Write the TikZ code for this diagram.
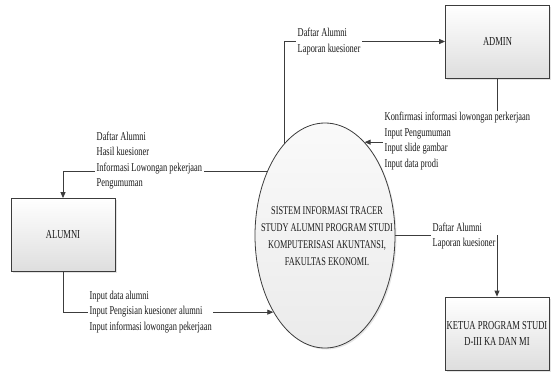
\documentclass[tikz,border=0pt]{standalone}
\usepackage{fontspec}
\setmainfont{Liberation Serif}[FakeStretch=0.7]
\usetikzlibrary{shapes.geometric,arrows.meta,shadows}
\definecolor{linegray}{RGB}{60,60,60}
\definecolor{inkgray}{RGB}{25,25,25}
\begin{document}
\begin{tikzpicture}[x=1pt,y=-1pt,
  entity/.style={draw=linegray, line width=0.8pt, top color=white, bottom color=black!13,
    minimum width=104pt, minimum height=73pt, inner sep=0pt, align=center,
    font=\fontsize{12.2}{16}\selectfont, text=inkgray,
    drop shadow={shadow xshift=1.8pt, shadow yshift=-1.8pt, fill=black!22}},
  procshape/.style={ellipse, draw=linegray, line width=0.8pt, top color=black!2, bottom color=black!8,
    minimum width=140pt, minimum height=225pt, inner sep=0pt,
    drop shadow={shadow xshift=1.5pt, shadow yshift=-1.5pt, fill=black!20}},
  proctext/.style={align=center, font=\fontsize{11.8}{17}\selectfont, text=inkgray, inner sep=0pt},
  dataflow/.style={draw=linegray, line width=0.8pt, -{Triangle[length=6pt,width=5pt]}},
  flowlabel/.style={fill=white, inner sep=1.5pt, anchor=west, align=left,
    font=\fontsize{12}{15.5}\selectfont, text=inkgray},
]
\useasboundingbox (0,0) rectangle (551,372);

% external entities and the process
\node[entity] (admin)  at (497.5,41.5) {ADMIN};
\node[entity] (alumni) at (63,235) {ALUMNI};
\node[entity] (ketua)  at (497,333.5) {KETUA PROGRAM STUDI\\D-III KA DAN MI};
\node[procshape] (el) at (325,235.5) {};
\node[proctext] (eltext) at (327,236) {SISTEM INFORMASI TRACER\\STUDY ALUMNI PROGRAM STUDI\\KOMPUTERISASI AKUNTANSI,\\FAKULTAS EKONOMI.};

% data flows
\draw[dataflow] (el.114) |- (admin.west);
\draw[dataflow] (admin.south) |- (el.67);
\draw[dataflow] (el.132) -| (alumni.north);
\draw[dataflow] (alumni.south) |- (el.236);
\draw[dataflow] (el.east) -| (ketua.north);

% flow labels
\node[flowlabel] (lbA) at (296,41.5) {Daftar Alumni\\Laporan kuesioner};
\node[flowlabel] (lbB) at (383,141) {Konfirmasi informasi lowongan perkerjaan\\Input Pengumuman\\Input slide gambar\\Input data prodi};
\node[flowlabel] (lbC) at (95,160.5) {Daftar Alumni\\Hasil kuesioner\\Informasi Lowongan pekerjaan\\Pengumuman};
\node[flowlabel] (lbD) at (88,312) {Input data alumni\\Input Pengisian kuesioner alumni\\Input informasi lowongan pekerjaan};
\node[flowlabel] (lbE) at (431,236) {Daftar Alumni\\Laporan kuesioner};
\end{tikzpicture}
\end{document}
